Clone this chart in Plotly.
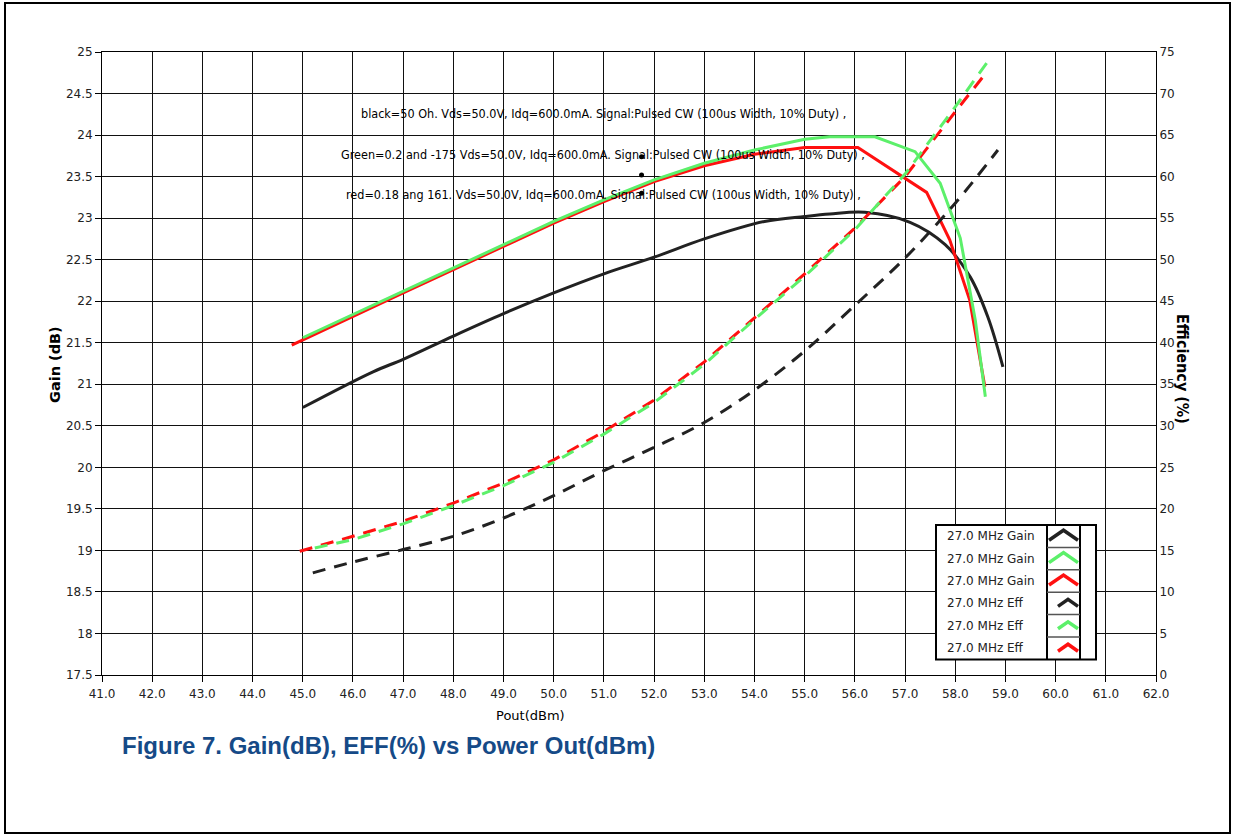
import plotly.graph_objects as go

# ---- data -------------------------------------------------------------
gain_black_x = [45.0, 46.4, 47.0, 48.0, 49.0, 50.0, 51.0, 52.0, 53.0, 54.2, 55.0, 55.5, 56.2, 57.1, 57.8, 58.3, 58.65, 58.95]
gain_black = [20.72, 21.15, 21.3, 21.58, 21.85, 22.1, 22.33, 22.53, 22.75, 22.96, 23.02, 23.05, 23.07, 22.95, 22.68, 22.29, 21.81, 21.21]

gain_green_x = [45.0, 46.0, 47.0, 48.0, 49.0, 50.0, 51.0, 52.0, 53.0, 54.0, 55.0, 55.5, 56.4, 57.2, 57.7, 58.1, 58.4, 58.6]
gain_green = [21.56, 21.84, 22.12, 22.4, 22.68, 22.96, 23.22, 23.46, 23.66, 23.82, 23.95, 23.98, 23.98, 23.8, 23.42, 22.76, 21.77, 20.85]

gain_red_x = [44.78, 46.0, 47.0, 48.0, 49.0, 50.0, 51.0, 52.0, 53.0, 54.0, 55.0, 56.06, 57.43, 57.89, 58.29, 58.59]
gain_red = [21.47, 21.82, 22.1, 22.38, 22.66, 22.94, 23.2, 23.44, 23.63, 23.77, 23.85, 23.85, 23.31, 22.74, 22.01, 20.97]

eff_black_x = [45.2, 46.0, 47.0, 48.0, 49.0, 50.0, 51.0, 52.0, 53.0, 54.0, 55.0, 56.0, 57.0, 58.0, 58.85]
eff_black = [12.3, 13.6, 15.1, 16.7, 18.9, 21.6, 24.6, 27.4, 30.4, 34.3, 39.0, 44.5, 50.2, 56.8, 63.2]

eff_red_x = [44.94, 46.0, 47.0, 48.0, 49.0, 50.0, 51.0, 52.0, 53.0, 54.0, 55.0, 56.0, 57.0, 58.0, 58.63]
eff_red = [14.9, 16.7, 18.5, 20.7, 23.1, 25.9, 29.3, 33.1, 37.7, 43.0, 48.3, 53.8, 60.0, 67.8, 72.6]

eff_green_x = [45.24, 46.0, 47.0, 48.0, 49.0, 50.0, 51.0, 52.0, 53.0, 54.0, 55.0, 56.0, 57.0, 58.0, 58.63]
eff_green = [15.3, 16.3, 18.2, 20.4, 22.8, 25.6, 29.0, 32.8, 37.4, 42.8, 48.0, 53.6, 60.3, 68.4, 73.7]

# cursor markers beside the condition notes
cursor_x = [51.75, 51.75, 51.75]
cursor_y = [23.74, 23.52, 23.3]

notes = [
    "black=50 Oh. Vds=50.0V, Idq=600.0mA. Signal:Pulsed CW (100us Width, 10% Duty) ,",
    "Green=0.2 and -175 Vds=50.0V, Idq=600.0mA. Signal:Pulsed CW (100us Width, 10% Duty) ,",
    "red=0.18 ang 161. Vds=50.0V, Idq=600.0mA. Signal:Pulsed CW (100us Width, 10% Duty) ,",
]
legend_labels = ["27.0 MHz Gain", "27.0 MHz Gain", "27.0 MHz Gain",
                 "27.0 MHz Eff", "27.0 MHz Eff", "27.0 MHz Eff"]

BLACK = "#222222"
GREEN = "#5cf06a"
RED = "#ff1010"
legend_colors = [BLACK, GREEN, RED, BLACK, GREEN, RED]

COND = "DejaVu Sans Condensed, DejaVu Sans, sans-serif"
SANS = "DejaVu Sans, sans-serif"

# ---- figure geometry (pixels) ------------------------------------------
W, H = 1233, 835
L, R, T, B = 102, 1156, 52, 675


def px(x):
    return (x - L) / (R - L)


def py(y):
    return (B - y) / (B - T)


fig = go.Figure()

dash = "13px,9px"
fig.add_trace(go.Scatter(x=eff_black_x, y=eff_black, yaxis="y2", mode="lines",
                         line=dict(color=BLACK, width=3, dash=dash, shape="spline")))
fig.add_trace(go.Scatter(x=eff_red_x, y=eff_red, yaxis="y2", mode="lines",
                         line=dict(color=RED, width=3, dash=dash)))
fig.add_trace(go.Scatter(x=eff_green_x, y=eff_green, yaxis="y2", mode="lines",
                         line=dict(color=GREEN, width=3, dash=dash)))

fig.add_trace(go.Scatter(x=gain_black_x, y=gain_black, mode="lines",
                         line=dict(color=BLACK, width=3, shape="spline")))
fig.add_trace(go.Scatter(x=gain_red_x, y=gain_red, mode="lines",
                         line=dict(color=RED, width=3)))
fig.add_trace(go.Scatter(x=gain_green_x, y=gain_green, mode="lines",
                         line=dict(color=GREEN, width=3)))

fig.add_trace(go.Scatter(x=cursor_x, y=cursor_y, mode="markers",
                         marker=dict(color="black", size=5)))

shapes = []
annotations = []

# condition notes
for i, t in enumerate(notes):
    annotations.append(dict(text=t, xref="paper", yref="paper", x=px(603), y=py(113 + 41 * i),
                            xanchor="center", yanchor="middle", showarrow=False,
                            font=dict(family=COND, size=12.5, color="black")))

# legend box
lx0, lx1, lx2, lx3 = 936, 1047, 1080, 1096
ly0, row_h = 525, 22.4
ly1 = ly0 + row_h * 6
shapes.append(dict(type="rect", xref="paper", yref="paper", x0=px(lx0), x1=px(lx3), y0=py(ly0), y1=py(ly1),
                   line=dict(color="black", width=2), fillcolor="white", layer="above"))
shapes.append(dict(type="line", xref="paper", yref="paper", x0=px(lx1), x1=px(lx1), y0=py(ly0), y1=py(ly1),
                   line=dict(color="black", width=2), layer="above"))
shapes.append(dict(type="line", xref="paper", yref="paper", x0=px(lx2), x1=px(lx2), y0=py(ly0), y1=py(ly1),
                   line=dict(color="black", width=2), layer="above"))
for i, (lab, col) in enumerate(zip(legend_labels, legend_colors)):
    top = ly0 + row_h * i
    cy = top + row_h / 2
    if i > 0:
        shapes.append(dict(type="line", xref="paper", yref="paper", x0=px(lx1), x1=px(lx2), y0=py(top), y1=py(top),
                           line=dict(color="#555555", width=1.5), layer="above"))
    annotations.append(dict(text=lab, xref="paper", yref="paper", x=px(945), y=py(cy),
                            xanchor="left", yanchor="middle", showarrow=False,
                            font=dict(family=SANS, size=12, color="#222222")))
    if i < 3:
        xa, xm, xb, yt, yb = 1049, 1063.5, 1078, cy - 6, cy + 4
    else:
        xa, xm, xb, yt, yb = 1058, 1068, 1078, cy - 4, cy + 3
    path = "M {:.5f} {:.5f} L {:.5f} {:.5f} L {:.5f} {:.5f}".format(px(xa), py(yb), px(xm), py(yt), px(xb), py(yb))
    shapes.append(dict(type="path", xref="paper", yref="paper", path=path,
                       line=dict(color=col, width=3.5), layer="above"))

# outer frame
shapes.append(dict(type="rect", xref="paper", yref="paper", x0=px(5), x1=px(1230), y0=py(3), y1=py(833),
                   line=dict(color="black", width=2)))

# axis titles and caption
annotations.append(dict(text="Pout(dBm)", xref="paper", yref="paper", x=px(530), y=py(715),
                        xanchor="center", yanchor="middle", showarrow=False,
                        font=dict(family=SANS, size=13, color="black")))
annotations.append(dict(text="<b>Gain (dB)</b>", xref="paper", yref="paper", x=px(55), y=py(365),
                        xanchor="center", yanchor="middle", showarrow=False, textangle=-90,
                        font=dict(family=SANS, size=14.5, color="black")))
annotations.append(dict(text="<b>Efficiency (%)</b>", xref="paper", yref="paper", x=px(1183), y=py(369),
                        xanchor="center", yanchor="middle", showarrow=False, textangle=90,
                        font=dict(family=COND, size=16, color="black")))
annotations.append(dict(text="<b>Figure 7. Gain(dB), EFF(%) vs Power Out(dBm)</b>", xref="paper", yref="paper",
                        x=px(120), y=py(745), xanchor="left", yanchor="middle", showarrow=False,
                        font=dict(family="Liberation Sans, Arial, sans-serif", size=24, color="#154a87")))

tickfont = dict(family=SANS, size=12, color="#222222")
fig.update_layout(
    width=W, height=H,
    margin=dict(l=L, r=W - R, t=T, b=H - B),
    paper_bgcolor="white", plot_bgcolor="white",
    showlegend=False,
    shapes=shapes, annotations=annotations,
    font=dict(family=SANS, size=12, color="black"),
    xaxis=dict(range=[41, 62], dtick=1, tick0=41, tickformat=".1f",
               showgrid=True, gridcolor="#111111", gridwidth=1,
               showline=True, linecolor="black", linewidth=1, mirror=True,
               ticks="outside", ticklen=6, tickcolor="black", zeroline=False,
               ticklabelstandoff=2, tickfont=tickfont),
    yaxis=dict(range=[17.5, 25], dtick=0.5, tick0=17.5,
               showgrid=True, gridcolor="#111111", gridwidth=1,
               showline=True, linecolor="black", linewidth=1,
               ticks="outside", ticklen=6, tickcolor="black", zeroline=False,
               tickfont=tickfont),
    yaxis2=dict(range=[0, 75], dtick=5, overlaying="y", side="right",
                showgrid=False, zeroline=False,
                showline=True, linecolor="black", linewidth=1,
                ticks="", ticklabelstandoff=0,
                tickfont=tickfont),
)

fig.write_html("out.html")
